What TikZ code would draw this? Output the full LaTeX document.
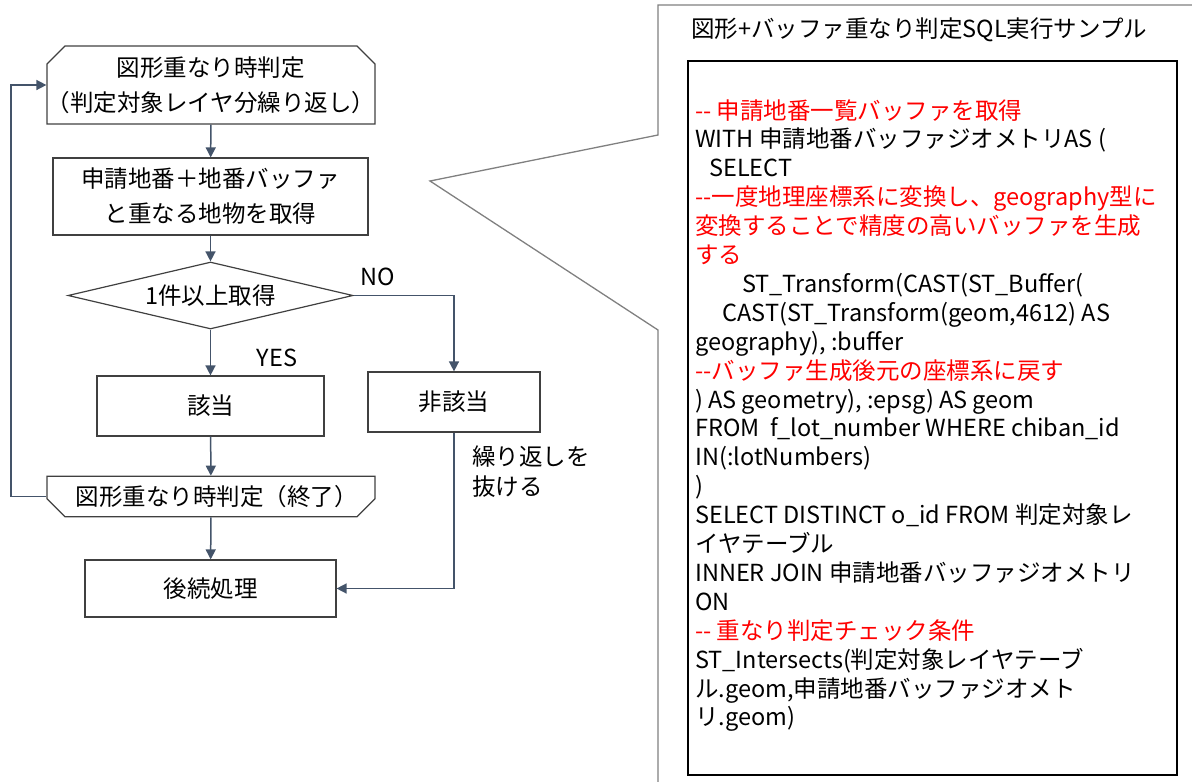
\documentclass[tikz,border=0pt]{standalone}
\usepackage{fontspec}
\setmainfont{Noto Sans CJK JP}
\usetikzlibrary{arrows.meta, shapes.geometric, shapes.misc}
\definecolor{lineBlue}{HTML}{44546A}
\definecolor{frameGray}{gray}{0.5}
\definecolor{boxBlack}{gray}{0.25}
\definecolor{sqlRed}{HTML}{FF0000}
\newcommand{\halfparen}[1]{{\addfontfeature{RawFeature=+halt}#1}}

\begin{document}
\begin{tikzpicture}[x=1pt, y=-1pt, >={Triangle[length=10pt,width=10pt]}, font=\fontsize{23.5}{35}\selectfont]
    \useasboundingbox (0,0) rectangle (1192,782);
    \tikzset{
        box/.style={draw=boxBlack, line width=1.2pt, inner sep=0pt, align=center},
        loopbox/.style={box, chamfered rectangle, chamfered rectangle xsep=9pt, chamfered rectangle ysep=9pt},
        flow/.style={->, draw=lineBlue, line width=1.5pt},
        sqlline/.style={anchor=base west, inner sep=0pt, font=\fontsize{23.5}{29}\selectfont}
    }

    % Flow
    \node[loopbox, chamfered rectangle corners={north west,north east}, minimum width=328pt, minimum height=78pt] (start) at (211,85) {図形重なり時判定\\\halfparen{（}判定対象レイヤ分繰り返し\halfparen{）}};
    \node[box, minimum width=315pt, minimum height=77pt] (fetch) at (210.5,196.5) {申請地番＋地番バッファ\\と重なる地物を取得};
    \node[box, diamond, shape aspect=4.25, minimum width=285pt, minimum height=67pt] (check) at (210.5,295.5) {1件以上取得};
    \node[box, minimum width=227pt, minimum height=60pt] (hit) at (210.5,406) {該当};
    \node[box, minimum width=172pt, minimum height=60pt] (miss) at (454,402) {非該当};
    \node[loopbox, chamfered rectangle corners={south west,south east}, minimum width=328pt, minimum height=37pt] (endloop) at (211,496.5) {図形重なり時判定（終了\halfparen{）}};
    \node[box, minimum width=251pt, minimum height=57pt] (after) at (210.5,588.5) {後続処理};

    % Labels
    \node[inner sep=0pt] (no) at (378,277) {NO};
    \node[inner sep=0pt] (yes) at (277,358) {YES};
    \node[inner sep=0pt, anchor=west, align=left, font=\fontsize{23.5}{30}\selectfont] (exit) at (472,472) {繰り返しを\\抜ける};

    % Connectors
    \coordinate (back) at (11,496.5);
    \draw[flow] (start) -- (fetch);
    \draw[flow] (fetch) -- (check);
    \draw[flow] (check.south) -- (hit.north);
    \draw[flow] (check.east) -| (miss.north);
    \draw[flow] (hit) -- (endloop);
    \draw[flow] (endloop) -- (after);
    \draw[flow] (endloop.west) -- (back) |- (start.west);
    \draw[flow] (miss.south) |- (after.east);

    % Callout
    \draw[frameGray, line width=1.3pt] (1196,5) -- (658,5) -- (658,135) -- (430,181) -- (658,330) -- (658,786);
    \node[anchor=west, inner sep=0pt] (title) at (691,30) {図形+バッファ重なり判定SQL実行サンプル};
    \draw[black, line width=1.8pt] (688,61) rectangle (1177,775);

    % SQL
    \foreach \txt [count=\i] in {
        {\color{sqlRed}-{}- 申請地番一覧バッファを取得},
        {WITH 申請地番バッファジオメトリAS (},
        {\hspace*{14pt}SELECT},
        {\color{sqlRed}-{}-一度地理座標系に変換し、geography型に},
        {\color{sqlRed}変換することで精度の高いバッファを生成},
        {\color{sqlRed}する},
        {\hspace*{47pt}ST\_Transform(CAST(ST\_Buffer(},
        {\hspace*{27pt}CAST(ST\_Transform(geom,4612) AS},
        {geography), :buffer},
        {\color{sqlRed}-{}-バッファ生成後元の座標系に戻す},
        {) AS geometry), :epsg) AS geom},
        {FROM\ \ f\_lot\_number WHERE chiban\_id},
        {IN(:lotNumbers)},
        {)},
        {SELECT DISTINCT o\_id FROM 判定対象レ},
        {イヤテーブル},
        {INNER JOIN 申請地番バッファジオメトリ},
        {ON},
        {\color{sqlRed}-{}- 重なり判定チェック条件},
        {ST\_Intersects(判定対象レイヤテーブ},
        {ル.geom,申請地番バッファジオメト},
        {リ.geom)}
    } {
        \node[sqlline] (sql\i) at (695,{119+28.9*(\i-1)}) {\txt};
    }
\end{tikzpicture}
\end{document}
